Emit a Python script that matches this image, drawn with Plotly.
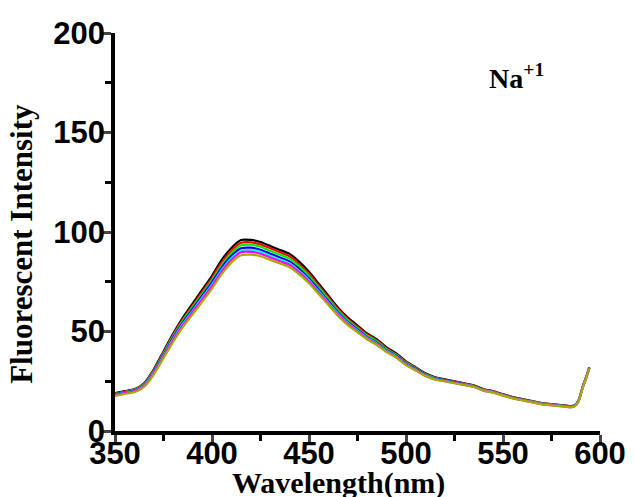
import plotly.graph_objects as go

wavelength = [350, 355, 360, 365, 370, 375, 380, 385, 390, 395,
              400, 405, 410, 415, 420, 425, 430, 435, 440, 445,
              450, 455, 460, 465, 470, 475, 480, 485, 490, 495,
              500, 505, 510, 515, 520, 525, 530, 535, 540, 545,
              550, 555, 560, 565, 570, 575, 580, 585,
              587, 589, 591, 593, 594.5]

s_black = [19, 20, 21, 24, 31, 40, 49, 57, 64, 71,
           78, 86, 92, 96, 96, 95, 93, 91, 89, 85,
           80, 74, 68, 62, 57, 53, 49, 46, 42, 39,
           35, 32, 29, 27, 26, 25, 24, 23, 21, 20,
           18.5, 17, 16, 15, 14, 13.5, 13, 12.5,
           13, 15.5, 22, 27.5, 32]
s_red = [18.8, 19.8, 20.8, 23.7, 30.6, 39.4, 48.3, 56.2, 63, 70,
         77, 84.7, 90.6, 94.6, 94.8, 93.8, 91.8, 89.8, 87.8, 83.8,
         79, 73.1, 67.2, 61.3, 56.3, 52.4, 48.5, 45.5, 41.5, 38.5,
         34.6, 31.7, 28.7, 26.7, 25.7, 24.8, 23.8, 22.8, 20.9, 19.9,
         18.4, 16.9, 15.9, 14.9, 13.9, 13.4, 12.9, 12.4,
         12.9, 15.4, 21.9, 27.4, 31.9]
s_green = [18.6, 19.6, 20.6, 23.4, 30.2, 39, 47.7, 55.5, 62.3, 69,
           75.8, 83.4, 89.4, 93.3, 93.6, 92.6, 90.5, 88.6, 86.6, 82.7,
           77.9, 72.1, 66.3, 60.5, 55.6, 51.7, 47.9, 45, 41.1, 38.2,
           34.3, 31.4, 28.5, 26.6, 25.6, 24.6, 23.6, 22.6, 20.7, 19.7,
           18.2, 16.8, 15.8, 14.8, 13.8, 13.3, 12.8, 12.3,
           12.8, 15.3, 21.8, 27.3, 31.8]
s_blue = [18.4, 19.4, 20.3, 23.1, 29.7, 38.3, 46.9, 54.6, 61.3, 68,
          74.7, 82.1, 88, 91.8, 92.1, 91.1, 89.1, 87.2, 85.2, 81.4,
          76.6, 71, 65.2, 59.6, 54.7, 51, 47.2, 44.3, 40.6, 37.7,
          33.9, 31.1, 28.2, 26.3, 25.4, 24.4, 23.4, 22.4, 20.5, 19.6,
          18.1, 16.7, 15.7, 14.7, 13.7, 13.2, 12.7, 12.2,
          12.7, 15.2, 21.7, 27.2, 31.7]
s_cyan = [18.2, 19.2, 20.1, 22.8, 29.3, 37.8, 46.3, 53.8, 60.4, 67,
          73.6, 80.9, 86.8, 90.6, 90.9, 90, 88, 86.1, 84.2, 80.4,
          75.8, 70.2, 64.5, 58.9, 54.2, 50.5, 46.8, 43.9, 40.2, 37.4,
          33.6, 30.8, 28, 26.1, 25.2, 24.2, 23.3, 22.3, 20.4, 19.5,
          18, 16.6, 15.6, 14.6, 13.6, 13.1, 12.6, 12.1,
          12.6, 15.1, 21.6, 27.1, 31.6]
s_magenta = [18, 19, 19.9, 22.6, 29, 37.4, 45.8, 53.2, 59.8, 66.3,
             72.9, 80.2, 86, 89.8, 90, 89.1, 87.2, 85.3, 83.4, 79.7,
             75.1, 69.6, 64, 58.4, 53.8, 50.1, 46.4, 43.6, 39.9, 37.1,
             33.4, 30.6, 27.8, 26, 25.1, 24.1, 23.2, 22.2, 20.3, 19.4,
             17.9, 16.5, 15.5, 14.5, 13.5, 13, 12.5, 12,
             12.5, 15, 21.5, 27, 31.5]
s_olive = [17.6, 18.6, 19.5, 22.1, 28.3, 36.6, 44.8, 52.2, 58.6, 65,
           71.6, 78.8, 84.6, 88.3, 88.6, 87.8, 86, 84.2, 82.3, 78.7,
           74.2, 68.8, 63.3, 57.8, 53.2, 49.6, 46, 43.2, 39.6, 36.8,
           33.1, 30.4, 27.6, 25.8, 24.9, 24, 23.1, 22.1, 20.2, 19.3,
           17.8, 16.4, 15.4, 14.4, 13.4, 12.9, 12.4, 11.9,
           12.4, 14.9, 21.4, 26.9, 31.4]

series = [s_black, s_red, s_green, s_blue, s_cyan, s_magenta, s_olive]
colors = ["#000000", "#ff0000", "#00ee00", "#0000ff", "#00ffff", "#ff00ff", "#aaaa00"]

x_ticks = [350, 400, 450, 500, 550, 600]
y_ticks = [0, 50, 100, 150, 200]

fig = go.Figure()
for s, c in zip(series, colors):
    fig.add_trace(go.Scatter(x=wavelength, y=s, mode="lines",
                             line=dict(color=c, width=2.2, shape="spline", smoothing=0.6),
                             showlegend=False, hoverinfo="skip"))

tickfont = dict(family="Liberation Sans", size=31, color="black", weight="bold")
xtitlefont = dict(family="Liberation Serif", size=30, color="black", weight="bold")
ytitlefont = dict(family="Liberation Serif", size=31, color="black", weight="bold")

fig.update_xaxes(range=[350, 600], tickvals=x_ticks, ticks="outside", ticklen=8, tickwidth=3,
                 showline=True, linewidth=3.5, linecolor="black", showgrid=False, zeroline=False,
                 tickfont=tickfont, automargin=False, ticklabelstandoff=-16,
                 minor=dict(dtick=25, tick0=350, ticks="outside", ticklen=6, tickwidth=3, tickcolor="black", showgrid=False))
fig.update_yaxes(range=[0, 200], tickvals=y_ticks, ticks="outside", ticklen=8, tickwidth=3,
                 showline=True, linewidth=3.5, linecolor="black", showgrid=False, zeroline=False,
                 tickfont=tickfont, automargin=False, ticklabelstandoff=-8,
                 minor=dict(dtick=25, tick0=0, ticks="outside", ticklen=6, tickwidth=3, tickcolor="black", showgrid=False))

# axis titles
fig.add_annotation(x=0.46, y=-0.13, xref="paper", yref="paper", text="Wavelength(nm)",
                   showarrow=False, xanchor="center", yanchor="middle", font=xtitlefont)
fig.add_annotation(x=-0.192, y=0.47, xref="paper", yref="paper", text="Fluorescent Intensity",
                   showarrow=False, xanchor="center", yanchor="middle", textangle=-90, font=ytitlefont)

fig.add_annotation(x=557, y=178, xref="x", yref="y", text="Na<sup>+1</sup>", showarrow=False,
                   font=dict(family="Liberation Serif", size=28, color="black", weight="bold"))

fig.update_layout(width=634, height=497, margin=dict(l=115, r=34, t=33, b=66),
                  plot_bgcolor="white", paper_bgcolor="white")

fig.write_html("out.html")
